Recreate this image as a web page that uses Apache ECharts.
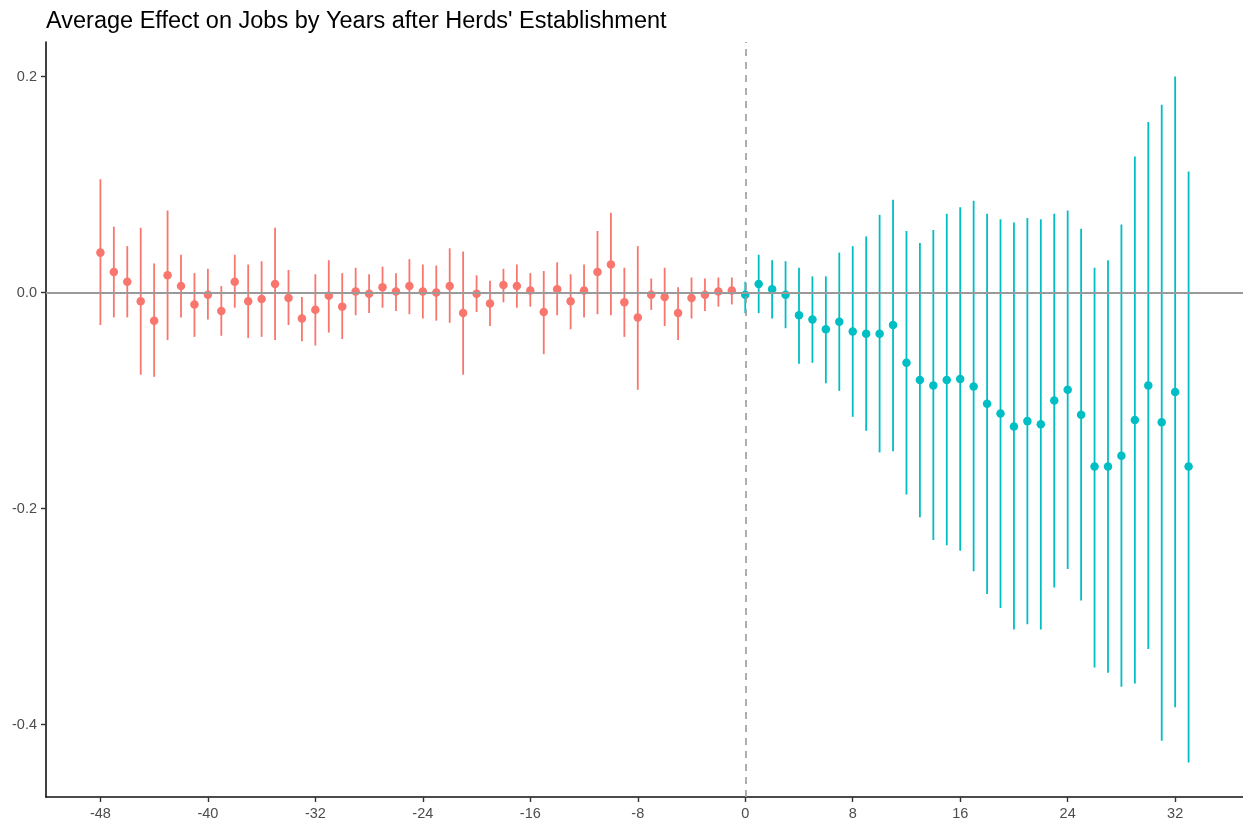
<!DOCTYPE html>
<html>
<head>
<meta charset="utf-8">
<title>Average Effect on Jobs</title>
<script src="https://cdn.jsdelivr.net/npm/echarts@6/dist/echarts.min.js"></script>
<style>
  html, body { margin: 0; padding: 0; background: #ffffff; }
  #chart { width: 1243px; height: 825px; }
</style>
</head>
<body>
<div id="chart"></div>
<script>
// Years relative to herd establishment: before (pre-period) and after (post-period)
const preYears = [-48, -47, -46, -45, -44, -43, -42, -41, -40, -39, -38, -37, -36, -35, -34,
  -33, -32, -31, -30, -29, -28, -27, -26, -25, -24, -23, -22, -21, -20, -19, -18, -17,
  -16, -15, -14, -13, -12, -11, -10, -9, -8, -7, -6, -5, -4, -3, -2, -1];
const preEstimate = [0.037, 0.019, 0.010, -0.008, -0.026, 0.016, 0.006, -0.011, -0.002, -0.017, 0.010, -0.008, -0.006, 0.008, -0.005,
  -0.024, -0.016, -0.003, -0.013, 0.001, -0.001, 0.005, 0.001, 0.006, 0.001, 0.000, 0.006, -0.019, -0.001, -0.010, 0.007, 0.006,
  0.002, -0.018, 0.003, -0.008, 0.002, 0.019, 0.026, -0.009, -0.023, -0.002, -0.004, -0.019, -0.005, -0.002, 0.001, 0.002];
const preUpper = [0.105, 0.061, 0.043, 0.060, 0.027, 0.076, 0.035, 0.018, 0.022, 0.006, 0.035, 0.026, 0.029, 0.060, 0.021,
  -0.004, 0.017, 0.030, 0.018, 0.023, 0.017, 0.024, 0.018, 0.031, 0.026, 0.025, 0.041, 0.038, 0.016, 0.011, 0.022, 0.026,
  0.018, 0.020, 0.028, 0.017, 0.026, 0.057, 0.074, 0.023, 0.043, 0.013, 0.023, 0.005, 0.014, 0.013, 0.014, 0.014];
const preLower = [-0.030, -0.023, -0.023, -0.076, -0.078, -0.044, -0.023, -0.041, -0.025, -0.040, -0.014, -0.042, -0.041, -0.044, -0.030,
  -0.045, -0.049, -0.037, -0.043, -0.021, -0.019, -0.014, -0.017, -0.020, -0.024, -0.026, -0.028, -0.076, -0.018, -0.031, -0.009, -0.014,
  -0.013, -0.057, -0.021, -0.034, -0.023, -0.020, -0.021, -0.041, -0.090, -0.016, -0.031, -0.044, -0.024, -0.017, -0.013, -0.011];

const postYears = [0, 1, 2, 3, 4, 5, 6, 7, 8, 9, 10, 11, 12, 13, 14, 15, 16,
  17, 18, 19, 20, 21, 22, 23, 24, 25, 26, 27, 28, 29, 30, 31, 32, 33];
const postEstimate = [-0.002, 0.008, 0.003, -0.002, -0.021, -0.025, -0.034, -0.027, -0.036, -0.038,
  -0.038, -0.030, -0.065, -0.081, -0.086, -0.081, -0.080, -0.087, -0.103, -0.112,
  -0.124, -0.119, -0.122, -0.100, -0.090, -0.113, -0.161, -0.161, -0.151, -0.118,
  -0.086, -0.120, -0.092, -0.161];
const postUpper = [0.010, 0.035, 0.030, 0.029, 0.023, 0.015, 0.015, 0.037, 0.043, 0.052,
  0.072, 0.086, 0.057, 0.046, 0.058, 0.073, 0.079, 0.085, 0.073, 0.068,
  0.065, 0.069, 0.068, 0.073, 0.076, 0.059, 0.023, 0.030, 0.063, 0.126,
  0.158, 0.174, 0.200, 0.112];
const postLower = [-0.019, -0.019, -0.024, -0.033, -0.066, -0.065, -0.084, -0.091, -0.115, -0.128,
  -0.148, -0.147, -0.187, -0.208, -0.229, -0.234, -0.239, -0.258, -0.279, -0.292,
  -0.312, -0.307, -0.312, -0.273, -0.256, -0.285, -0.347, -0.352, -0.365, -0.362,
  -0.330, -0.415, -0.384, -0.435];

// Axis tick labels
const xTicks = [-48, -40, -32, -24, -16, -8, 0, 8, 16, 24, 32];
const yTicks = [-0.4, -0.2, 0.0, 0.2];

const RED = '#F8766D';
const TEAL = '#00BFC4';
const FONT = 'Liberation Sans, Arial, Helvetica, sans-serif';

function zip3(xs, lo, hi) {
  return xs.map((x, i) => [x, lo[i], hi[i]]);
}
function zip2(xs, ys) {
  return xs.map((x, i) => [x, ys[i]]);
}

// Vertical interval drawn from lower to upper bound at each year
function errorBar(color) {
  return function (params, api) {
    const x = api.value(0);
    const p1 = api.coord([x, api.value(1)]);
    const p2 = api.coord([x, api.value(2)]);
    return {
      type: 'line',
      shape: { x1: p1[0], y1: p1[1], x2: p2[0], y2: p2[1] },
      style: { stroke: color, lineWidth: 1.8 }
    };
  };
}

const chart = echarts.init(document.getElementById('chart'), null, { renderer: 'canvas' });

const axisText = { color: '#4d4d4d', fontSize: 14.5, fontFamily: FONT };

chart.setOption({
  animation: false,
  backgroundColor: '#ffffff',
  title: {
    text: "Average Effect on Jobs by Years after Herds' Establishment",
    left: 46,
    top: 10,
    padding: 0,
    textStyle: { color: '#000000', fontSize: 23.5, fontWeight: 'normal', fontFamily: FONT }
  },
  grid: { left: 46, right: 0, top: 42, bottom: 28, containLabel: false },
  xAxis: {
    type: 'value',
    min: -52.05,
    max: 37.05,
    splitLine: { show: false },
    axisLine: { show: true, onZero: false, lineStyle: { color: '#111111', width: 1.6 } },
    axisTick: { show: true, length: 5, customValues: xTicks, lineStyle: { color: '#333333', width: 1.4 } },
    axisLabel: Object.assign({ customValues: xTicks, margin: 9, formatter: v => String(v) }, axisText)
  },
  yAxis: {
    type: 'value',
    min: -0.467,
    max: 0.232,
    splitLine: { show: false },
    axisLine: { show: true, onZero: false, lineStyle: { color: '#111111', width: 1.6 } },
    axisTick: { show: true, length: 5, customValues: yTicks, lineStyle: { color: '#333333', width: 1.4 } },
    axisLabel: Object.assign({ customValues: yTicks, margin: 9, formatter: v => v.toFixed(1) }, axisText)
  },
  series: [
    {
      // reference lines: zero effect and establishment year
      type: 'line',
      data: [],
      silent: true,
      z: 1,
      markLine: {
        silent: true,
        symbol: 'none',
        label: { show: false },
        animation: false,
        data: [
          { yAxis: 0, lineStyle: { color: '#9a9a9a', width: 1.8, type: 'solid' } },
          { xAxis: 0, lineStyle: { color: '#9a9a9a', width: 1.6, type: [7, 6] } }
        ]
      }
    },
    {
      type: 'custom',
      renderItem: errorBar(RED),
      encode: { x: 0, y: [1, 2] },
      data: zip3(preYears, preLower, preUpper),
      z: 2
    },
    {
      type: 'custom',
      renderItem: errorBar(TEAL),
      encode: { x: 0, y: [1, 2] },
      data: zip3(postYears, postLower, postUpper),
      z: 2
    },
    {
      type: 'scatter',
      symbol: 'circle',
      symbolSize: 8.5,
      itemStyle: { color: RED, opacity: 1 },
      data: zip2(preYears, preEstimate),
      z: 3
    },
    {
      type: 'scatter',
      symbol: 'circle',
      symbolSize: 8.5,
      itemStyle: { color: TEAL, opacity: 1 },
      data: zip2(postYears, postEstimate),
      z: 3
    }
  ]
});
</script>
</body>
</html>
